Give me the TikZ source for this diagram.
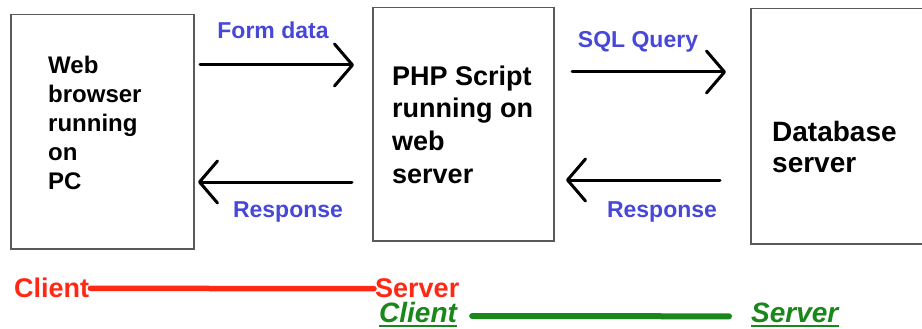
\documentclass[tikz,border=0pt]{standalone}
\usepackage{fontspec}
\setmainfont{Liberation Sans}
\usetikzlibrary{arrows.meta}
\definecolor{lblue}{RGB}{72,72,216}
\definecolor{cred}{RGB}{255,40,20}
\definecolor{cgreen}{RGB}{25,135,25}
\definecolor{boxgray}{RGB}{90,90,90}
\begin{document}
\begin{tikzpicture}[x=1pt,y=-1pt,
  box/.style={draw=boxgray, line width=1.5pt, inner sep=0pt, anchor=north west},
  boxtext/.style={align=left, anchor=west, inner sep=0pt, text=black},
  flow/.style={line width=3pt, line cap=round, -{Straight Barb[length=18pt,width=42pt,round]}},
  lbl/.style={font=\bfseries\fontsize{23}{26}\selectfont, text=lblue, inner sep=0pt, anchor=base},
  redtext/.style={font=\bfseries\fontsize{27}{30}\selectfont, text=cred, inner sep=1pt, anchor=base west},
  greentext/.style={font=\bfseries\itshape\fontsize{28}{30}\selectfont, text=cgreen, inner sep=0pt, anchor=base west},
  redline/.style={draw=cred, line width=5.5pt, line cap=round},
  greenline/.style={draw=cgreen, line width=6pt, line cap=round},
  uline/.style={draw=cgreen, line width=2pt}
]
\useasboundingbox (0,0) rectangle (922,329);
\clip (0,0) rectangle (922,329);

% boxes
\node[box, minimum width=183pt, minimum height=234pt] (b1) at (10,14) {};
\node[box, minimum width=181pt, minimum height=233pt] (b2) at (372,7) {};
\node[box, minimum width=200pt, minimum height=235pt] (b3) at (750,8) {};

% box texts
\node[boxtext, font=\bfseries\fontsize{24}{29}\selectfont] (t1) at (48,123) {Web\\browser\\running\\on\\PC};
\node[boxtext, font=\bfseries\fontsize{27}{32.7}\selectfont] (t2) at (392,124.5) {PHP Script\\running on\\web\\server};
\node[boxtext, font=\bfseries\fontsize{28}{31}\selectfont] (t3) at (772,147) {Database\\server};

% arrows
\coordinate (a1s) at (200,65);
\coordinate (a1e) at (354,65);
\coordinate (a2s) at (572,72);
\coordinate (a2e) at (726,72);
\coordinate (a3s) at (352,182);
\coordinate (a3e) at (198,182);
\coordinate (a4s) at (720,180);
\coordinate (a4e) at (566,180);
\draw[flow] (a1s) -- (a1e);
\draw[flow] (a2s) -- (a2e);
\draw[flow] (a3s) -- (a3e);
\draw[flow] (a4s) -- (a4e);

% arrow labels
\node[lbl] (l1) at (273,39) {Form data};
\node[lbl] (l2) at (638,48) {SQL Query};
\node[lbl] (l3) at (288,217) {Response};
\node[lbl] (l4) at (662,217) {Response};

% bottom: red client/server
\node[redtext] (rc) at (13,297) {Client};
\node[redtext] (rs) at (374,297) {Server};
\draw[redline] ([yshift=-1pt]rc.east) -- ([yshift=-1pt]rs.west);

% bottom: green client/server
\node[greentext] (gc) at (379,322) {Client};
\node[greentext] (gs) at (751,322) {Server};
\draw[uline] ([yshift=-4pt]gc.base west) -- ([yshift=-4pt]gc.base east);
\draw[uline] ([yshift=-4pt]gs.base west) -- ([yshift=-4pt]gs.base east);
\draw[greenline, shorten <=15pt, shorten >=22pt] ([yshift=-4pt]gc.east) -- ([yshift=-4pt]gs.west);
\end{tikzpicture}
\end{document}
